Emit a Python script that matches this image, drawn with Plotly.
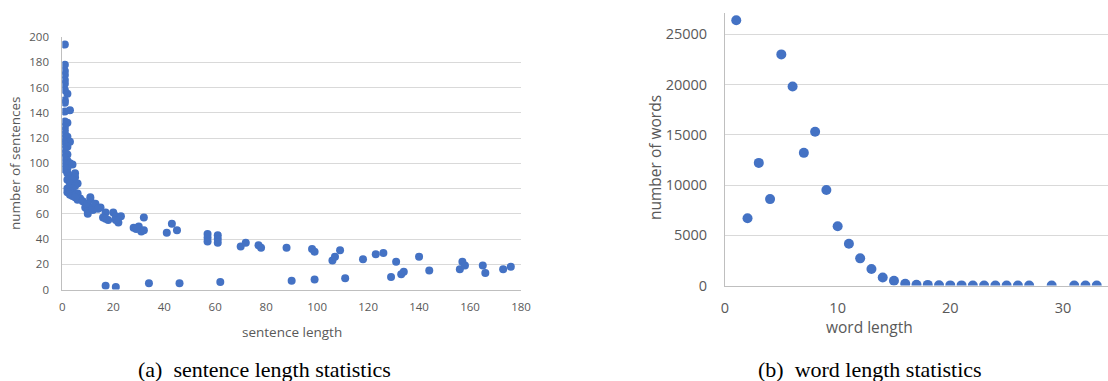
import plotly.graph_objects as go

# ---- data: sentence length statistics ----
sent_len = [1,1,1,1,1,1,1,2,1,1,1,3,1,2,1,1,1,1,2,1,3,1,2,1,1,2,1,2,1,3,1,2,4,2,5,3,5,2,4,3,6,5,2,4,3,2,3,6,4,7,6,5,8,
            9,10,10,11,11,12,10,13,12,15,14,17,16,18,20,21,22,23,21,17,
            28,30,31,32,32,29,41,43,45,57,57,57,61,61,61,
            70,72,77,78,88,98,99,106,107,109,118,123,126,131,140,156,157,158,165,166,173,176,
            17,21,34,46,62,90,99,111,129,133,134,144]
sent_cnt = [194,178,173,170,166,163,158,155,150,148,141,142,133,132,129,126,123,120,121,117,117,115,113,111,108,107,105,102,100,100,95,96,99,92,92,90,89,87,87,84,84,82,80,80,78,77,75,76,74,72,71,73,70,
            65,62,68,71,73,65,60,68,63,65,64,61,57,55,61,58,53,58,55,56,
            49,50,46,47,57,48,45,52,47,44,41,38,43,40,37,
            34,37,35,33,33,32,30,23,26,31,24,28,29,22,26,16,22,19,19,13,16,18,
            3,2,5,5,6,7,8,9,10,12,14,15]

# ---- data: word length statistics ----
word_len = [1,2,3,4,5,6,7,8,9,10,11,12,13,14,15,16,17,18,19,20,21,22,23,24,25,26,27,29,31,32,33]
word_cnt = [26400,6700,12200,8600,23000,19800,13200,15300,9500,5900,4150,2700,1650,800,470,180,70,60,15,10,10,8,8,6,5,5,4,3,2,2,1]

left_ticks = [0,20,40,60,80,100,120,140,160,180]
left_yticks = [0,20,40,60,80,100,120,140,160,180,200]
right_xticks = [0,10,20,30]
right_yticks = [0,5000,10000,15000,20000,25000]

W, H = 1108, 381
BLUE = "#4472C4"
GRAY_TXT = "#595959"
GRID = "#d9d9d9"
AXIS = "#bfbfbf"

def px_x(p):
    return p / W

def px_y(p):
    return 1 - p / H

fig = go.Figure()
fig.add_trace(go.Scatter(x=sent_len, y=sent_cnt, mode="markers",
                         marker=dict(color=BLUE, size=8), xaxis="x", yaxis="y",
                         showlegend=False))
fig.add_trace(go.Scatter(x=word_len, y=word_cnt, mode="markers",
                         marker=dict(color=BLUE, size=10), xaxis="x2", yaxis="y2",
                         showlegend=False))

FAM = "Open Sans, Liberation Sans, sans-serif"
font_lt = dict(family=FAM, size=11.5, color=GRAY_TXT)
font_ltitle = dict(family=FAM, size=13.5, color=GRAY_TXT)
font_rt = dict(family=FAM, size=14.5, color=GRAY_TXT)
font_rtitle = dict(family=FAM, size=15.5, color=GRAY_TXT)

fig.update_layout(
    template="none",
    width=W, height=H,
    margin=dict(l=0, r=0, t=0, b=0, autoexpand=False),
    paper_bgcolor="white", plot_bgcolor="white",
    xaxis=dict(domain=[px_x(62.3), px_x(521)], range=[0, 180], tickvals=left_ticks,
               showgrid=False, zeroline=False, showline=True, linecolor=AXIS, linewidth=1,
               tickfont=font_lt, ticks="", ticklabelstandoff=7, anchor="y", automargin=False),
    yaxis=dict(domain=[px_y(289.5), px_y(37)], range=[0, 200], tickvals=left_yticks,
               showgrid=True, gridcolor=GRID, zeroline=False, showline=True, linecolor=AXIS,
               linewidth=1, tickfont=font_lt, ticks="", ticklabelstandoff=10, anchor="x",
               automargin=False),
    xaxis2=dict(domain=[px_x(725), 1.0], range=[0, 34.0], tickvals=right_xticks,
                showgrid=False, zeroline=False, showline=True, linecolor=AXIS, linewidth=1,
                tickfont=font_rt, ticks="", ticklabelstandoff=9, anchor="y2", automargin=False),
    yaxis2=dict(domain=[px_y(285.5), px_y(13.3)], range=[0, 27090], tickvals=right_yticks,
                tickformat="d",
                showgrid=True, gridcolor=GRID, zeroline=False, showline=True, linecolor=AXIS,
                linewidth=1, tickfont=font_rt, ticks="", ticklabelstandoff=14, anchor="x2",
                automargin=False),
)

ann = [
    dict(text="sentence length", x=px_x(291.7), y=px_y(331.5), font=font_ltitle),
    dict(text="number of sentences", x=px_x(15), y=px_y(163), textangle=-90, font=font_ltitle),
    dict(text="word length", x=px_x(870), y=px_y(327), font=font_rtitle),
    dict(text="number of words", x=px_x(655), y=px_y(158), textangle=-90, font=font_rtitle),
    dict(text="(a)  sentence length statistics", x=px_x(264), y=px_y(369),
         font=dict(family="Liberation Serif, serif", size=22, color="black")),
    dict(text="(b)  word length statistics", x=px_x(870), y=px_y(369),
         font=dict(family="Liberation Serif, serif", size=22, color="black")),
]
for a in ann:
    fig.add_annotation(xref="paper", yref="paper", showarrow=False,
                       xanchor="center", yanchor="middle", **a)

fig.write_html("out.html", config={"displayModeBar": False},
               post_script="document.body.style.margin='0';document.body.style.overflow='hidden';")
